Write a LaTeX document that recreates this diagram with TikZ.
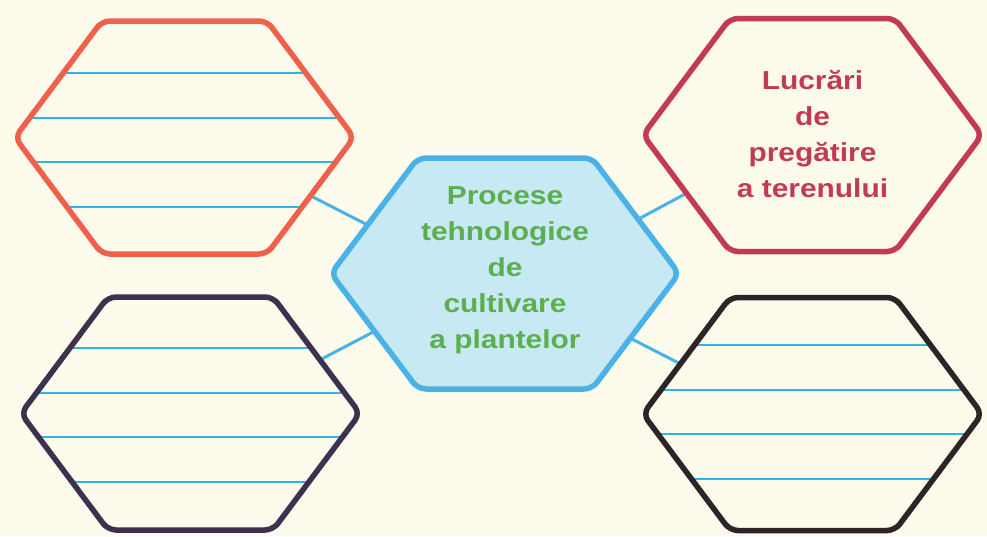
\documentclass[tikz,border=0pt]{standalone}
\usepackage{fontspec}
\usetikzlibrary{calc}
\newfontfamily\hexfont[FakeStretch=1.15]{Liberation Sans}

\definecolor{paper}{HTML}{FCFBEC}
\definecolor{hexorange}{HTML}{F0604A}
\definecolor{hexred}{HTML}{C23A55}
\definecolor{hexpurple}{HTML}{3E3150}
\definecolor{hexbrown}{HTML}{2E2326}
\definecolor{hexblue}{HTML}{4AB2E6}
\definecolor{hexfill}{HTML}{C6E9F3}
\definecolor{rulecol}{HTML}{30B4E0}
\definecolor{txtgreen}{HTML}{5DAE50}

\newcommand{\hexcut}{87pt}
\newcommand{\hexpath}[1]{([xshift=\hexcut]#1.north west) -- ([xshift=-\hexcut]#1.north east) -- (#1.east) -- ([xshift=-\hexcut]#1.south east) -- ([xshift=\hexcut]#1.south west) -- (#1.west) -- cycle}

\tikzset{
	hexbox/.style={minimum width=339pt, minimum height=233pt, inner sep=0pt, outer sep=0pt, align=center,
		font=\hexfont\bfseries\fontsize{26}{36}\selectfont},
	hexline/.style={line width=5.5pt, rounded corners=8pt},
	link/.style={draw=hexblue, line width=3pt},
	rule/.style={draw=rulecol, line width=2pt}
}

\begin{document}
\begin{tikzpicture}[x=1pt, y=-1pt]
	\fill[paper] (0,0) rectangle (987,536);
	\useasboundingbox (0,0) rectangle (987,536);

	\node[hexbox] (tl) at (184.5,137.5) {};
	\node[hexbox] (tr) at (812.5,135) {};
	\node[hexbox] (bl) at (190.5,413.5) {};
	\node[hexbox] (br) at (812.5,414) {};
	\node[hexbox, minimum width=348pt, minimum height=231pt] (proc) at (505,273.5) {};

	\draw[link] ($(tl.east)!.5!([xshift=-\hexcut]tl.south east)$) -- ($(proc.west)!.42!([xshift=\hexcut]proc.north west)$);
	\draw[link] ($(proc.east)!.47!([xshift=-\hexcut]proc.north east)$) -- ($(tr.west)!.5!([xshift=\hexcut]tr.south west)$);
	\draw[link] ($(bl.east)!.46!([xshift=-\hexcut]bl.north east)$) -- ($(proc.west)!.5!([xshift=\hexcut]proc.south west)$);
	\draw[link] ($(proc.east)!.56!([xshift=-\hexcut]proc.south east)$) -- ($(br.west)!.43!([xshift=\hexcut]br.north west)$);

	\fill[paper, rounded corners=8pt] \hexpath{tl};
	\fill[paper, rounded corners=8pt] \hexpath{tr};
	\fill[paper, rounded corners=8pt] \hexpath{bl};
	\fill[paper, rounded corners=8pt] \hexpath{br};
	\fill[hexfill, rounded corners=8pt] \hexpath{proc};

	\foreach \h/\s in {tl/0, bl/-1, br/-4} {
		\begin{scope}
			\clip \hexpath{\h};
			\foreach \dy in {-65,-20,24,69}
				\draw[rule] ($(\h)+(-200,\dy+\s)$) -- ($(\h)+(200,\dy+\s)$);
		\end{scope}
	}

	\draw[hexline, hexorange] \hexpath{tl};
	\draw[hexline, hexred] \hexpath{tr};
	\draw[hexline, hexpurple] \hexpath{bl};
	\draw[hexline, hexbrown] \hexpath{br};
	\draw[hexline, hexblue] \hexpath{proc};

	\node[hexbox, text=hexred] (prep) at (812.5,134) {Lucrări\\de\\pregătire\\a terenului};
	\node[hexbox, text=txtgreen] (title) at (505,270.5) {Procese\\tehnologice\\de\\cultivare\\a plantelor};

\end{tikzpicture}
\end{document}
